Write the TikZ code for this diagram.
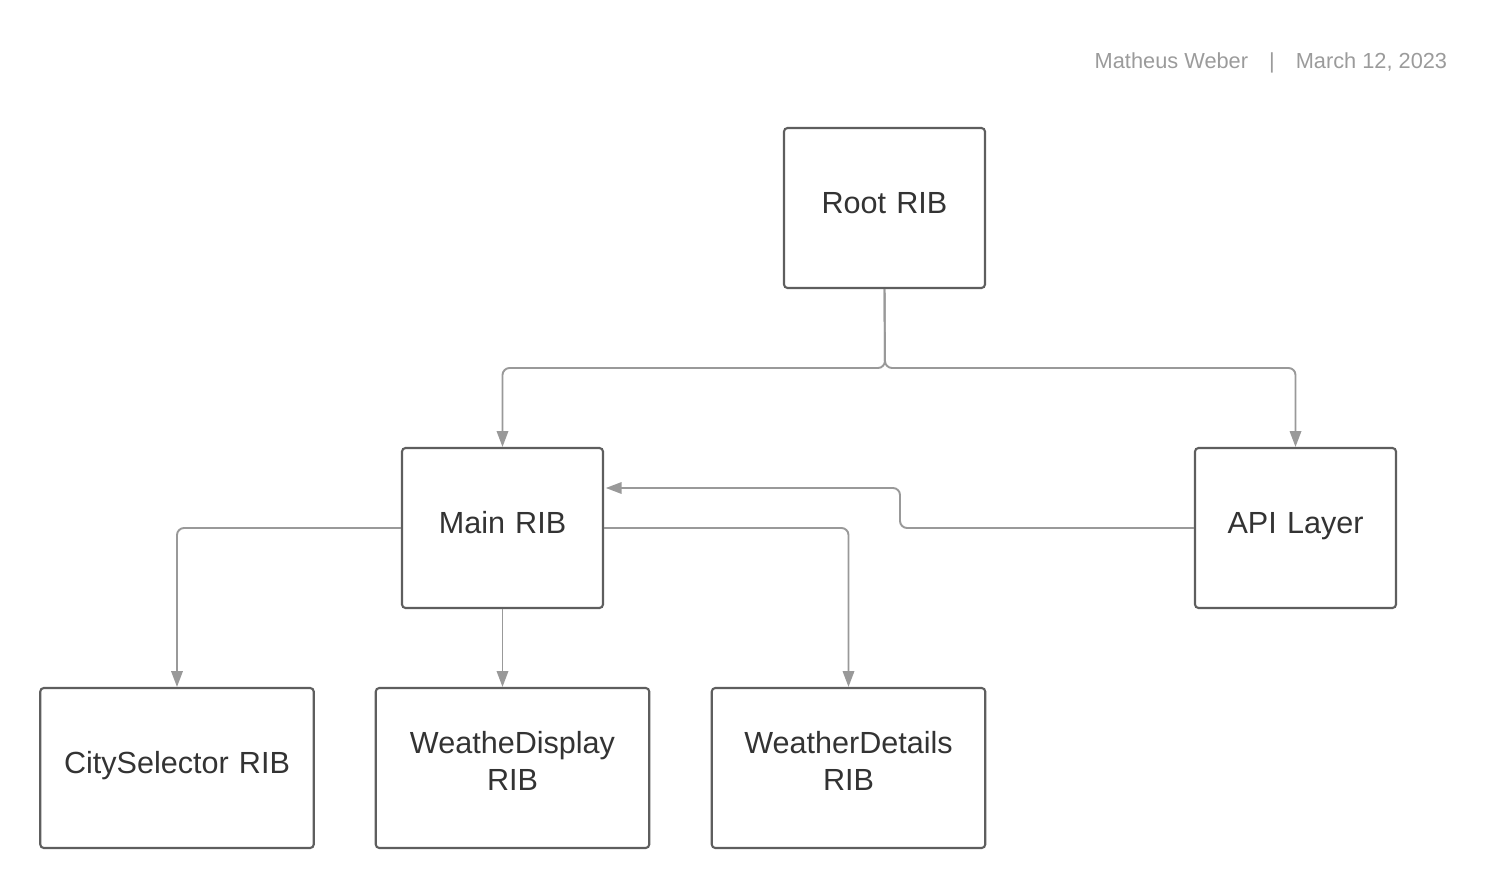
\documentclass[tikz,border=0pt]{standalone}
\usepackage{fontspec}
\setmainfont{Liberation Sans}
\usetikzlibrary{arrows.meta,calc}
\definecolor{boxline}{HTML}{5E5E5E}
\definecolor{wire}{HTML}{999999}
\definecolor{ink}{HTML}{333333}
\definecolor{stamp}{HTML}{9B9B9B}
\newcommand{\ribgap}[1]{\endgraf\vspace{#1}}

\begin{document}
\begin{tikzpicture}[x=0.02cm,y=-0.02cm,>={Triangle[length=9pt,width=6.5pt]},
                    rib/.style={draw=boxline,line width=1.2pt,rounded corners=2pt,
                                minimum width=4.02cm,minimum height=3.2cm,text=ink,
                                align=center,text width=5cm,
                                font=\fontsize{17.4}{21}\selectfont,
                                execute at end node={\ribgap{#1}}},
                    rib/.default=0.2cm,
                    wide/.style={minimum width=5.47cm},
                    link/.style={->,draw=wire,line width=1.1pt,rounded corners=4pt}]
  \useasboundingbox (0,0) rectangle (1488,888);
  \node[anchor=base east,inner sep=0pt,text=stamp,font=\fontsize{12.4}{15}\selectfont] (stamp) at (1447.5,69)
        {Matheus Weber\hspace{0.42cm}|\hspace{0.42cm}March 12, 2023};

  \node[rib,text width=3.6cm] (root) at (884.5,208) {Root RIB};
  \node[rib,text width=3.6cm] (main) at (502.5,528) {Main RIB};
  \node[rib=0.08cm,text width=3.6cm] (api) at (1295.5,528) {API Layer};
  \node[rib=0.08cm,wide] (city) at (177,768) {CitySelector RIB};
  \node[rib=0.28cm,wide] (display) at (512.5,768) {WeatheDisplay RIB};
  \node[rib=0.28cm,wide] (details) at (848.5,768) {WeatherDetails RIB};

  \coordinate (split) at (885,368);
  \coordinate (back) at (900,488);

  \draw[link] (root.south) -- (split) -| (main.north);
  \draw[link] (root.south) -- (split) -| (api.north);
  \draw[link] (main.west) -| (city.north);
  \draw[link] (main.south) -- (main.south |- display.north);
  \draw[link] (main.east) -| (details.north);
  \draw[link] (api.west) -| (back) -- ([xshift=1pt]main.east |- back);
\end{tikzpicture}
\end{document}
